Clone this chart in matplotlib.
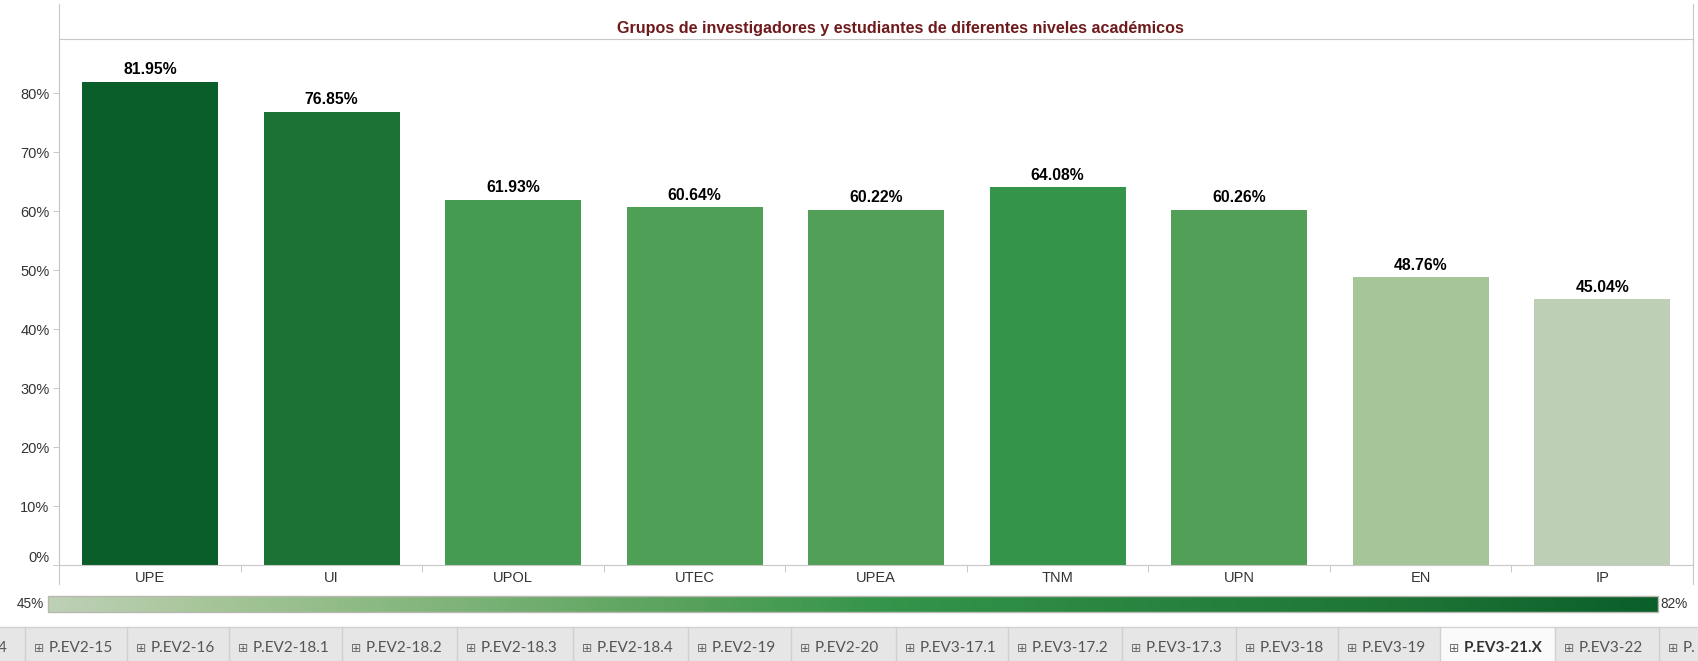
import numpy as np
import matplotlib
matplotlib.use("Agg")
import matplotlib.pyplot as plt
from matplotlib.colors import LinearSegmentedColormap, Normalize
from matplotlib.cm import ScalarMappable
from matplotlib.lines import Line2D
from matplotlib.patches import Rectangle

# ---------------- data ----------------
categories = ["UPE", "UI", "UPOL", "UTEC", "UPEA", "TNM", "UPN", "EN", "IP"]
values = [81.95, 76.85, 61.93, 60.64, 60.22, 64.08, 60.26, 48.76, 45.04]
yticks = [0, 10, 20, 30, 40, 50, 60, 70, 80]
title = "Grupos de investigadores y estudiantes de diferentes niveles académicos"
tab_labels = ["4", "P.EV2-15", "P.EV2-16", "P.EV2-18.1", "P.EV2-18.2", "P.EV2-18.3",
              "P.EV2-18.4", "P.EV2-19", "P.EV2-20", "P.EV3-17.1", "P.EV3-17.2",
              "P.EV3-17.3", "P.EV3-18", "P.EV3-19", "P.EV3-21.X", "P.EV3-22", "P."]
active_tab = "P.EV3-21.X"

# ---------------- layout / style ----------------
W, H = 1699, 661
tab_edges = [0, 25, 127, 229, 342, 457, 573, 688, 791, 896, 1008, 1122, 1236,
             1338, 1440, 1555, 1659, 1699]
cmap = LinearSegmentedColormap.from_list(
    "tab_green",
    [(0.0, "#bdd0b6"), (0.10, "#a6c598"), (0.41, "#53a058"),
     (0.52, "#33944a"), (0.86, "#1b7234"), (1.0, "#0a5e2a")])
line_col = "#c8c8c8"
plt.rcParams["font.family"] = ["Liberation Sans", "DejaVu Sans"]


def fx(x):
    return x / W


def fy(y):
    return 1 - y / H


fig = plt.figure(figsize=(W / 100, H / 100), dpi=100)
fig.patch.set_facecolor("white")

# ---------------- main axes ----------------
ax_l, ax_r, ax_t, ax_b = 59.3, 1693, 39, 565
ax = fig.add_axes([fx(ax_l), fy(ax_b), (ax_r - ax_l) / W, (ax_b - ax_t) / H])
norm = Normalize(vmin=min(values), vmax=max(values))
x = np.arange(len(categories))
ax.bar(x, values, width=0.75, color=[cmap(norm(v)) for v in values], zorder=2)
for xi, v in zip(x, values):
    ax.annotate(f"{v:.2f}%", (xi, v), xytext=(0, 8.6), textcoords="offset points",
                ha="center", va="center", fontsize=11.3, fontweight="bold",
                color="black")

ax.set_xlim(-0.5, len(categories) - 0.5)
ax.set_ylim(0, 89.2)
ax.set_yticks(yticks)
ax.set_yticklabels([f"{t}%" for t in yticks], fontsize=10.5, color="#333333")
ax.tick_params(axis="y", length=4, width=0.7, color=line_col, pad=3)
ax.get_yticklabels()[0].set_va("bottom")
ax.set_xticks(x)
ax.set_xticklabels(categories, fontsize=10.5, color="#333333")
ax.tick_params(axis="x", which="major", length=0, pad=4)
ax.set_xticks(np.arange(0.5, len(categories) - 1, 1.0), minor=True)
ax.tick_params(axis="x", which="minor", length=5, width=0.7, color=line_col)
for s in ax.spines.values():
    s.set_color(line_col)
    s.set_linewidth(0.8)

# extensions of the frame lines
for xx in (ax_l, ax_r):
    fig.add_artist(Line2D([fx(xx), fx(xx)], [fy(4), fy(584)], color=line_col,
                          lw=0.8, transform=fig.transFigure))

fig.text(fx(900), fy(28), title, ha="center", va="center", fontsize=11.6,
         fontweight="bold", color="#6f1a1c")

# ---------------- colour legend ----------------
cax = fig.add_axes([fx(47.7), fy(612), (1658 - 47.7) / W, (612 - 596) / H])
cb = fig.colorbar(ScalarMappable(norm=norm, cmap=cmap), cax=cax,
                  orientation="horizontal")
cb.set_ticks([])
cb.outline.set_edgecolor("#b8b8b0")
cb.outline.set_linewidth(1.0)
fig.text(fx(44), fy(604), f"{norm.vmin:.0f}%", ha="right", va="center",
         fontsize=9.8, color="#333333")
fig.text(fx(1660.5), fy(604), f"{norm.vmax:.0f}%", ha="left", va="center",
         fontsize=9.8, color="#333333")

# ---------------- tab bar ----------------
tab_top, tab_bot = 627, 661
fig.add_artist(Rectangle((0, fy(tab_bot)), 1, (tab_bot - tab_top) / H,
                         facecolor="#e6e6e6", edgecolor="none",
                         transform=fig.transFigure, zorder=0))
fig.add_artist(Line2D([0, 1], [fy(tab_top), fy(tab_top)], color="#d2d2d2",
                      lw=1.0, transform=fig.transFigure))
ty = fy(648)
for i, lab in enumerate(tab_labels):
    left, right = tab_edges[i], tab_edges[i + 1]
    if lab == active_tab:
        fig.add_artist(Rectangle((fx(left), fy(tab_bot)), (right - left) / W,
                                 (tab_bot - tab_top) / H, facecolor="#fafafa",
                                 edgecolor="none", transform=fig.transFigure,
                                 zorder=1))
    if i > 0:
        fig.add_artist(Line2D([fx(left), fx(left)], [fy(tab_top), fy(tab_bot)],
                              color="#d0d0d0", lw=1.0, transform=fig.transFigure))
    if i == 0:
        fig.text(fx(6.5), ty, lab, ha="right", va="center", fontsize=11,
                 family=["Lato", "DejaVu Sans"], color="#555555")
        continue
    bold = lab == active_tab
    fig.text(fx(left + 9), ty, "⊞", ha="left", va="center", fontsize=8.8,
             family=["DejaVu Sans"], color="#666666")
    fig.text(fx(left + 24), ty, lab, ha="left", va="center", fontsize=11,
             family=["Lato", "DejaVu Sans"],
             fontweight="bold" if bold else "normal",
             color="#333333" if bold else "#555555")

fig.savefig("out.png", dpi=100, facecolor="white")
